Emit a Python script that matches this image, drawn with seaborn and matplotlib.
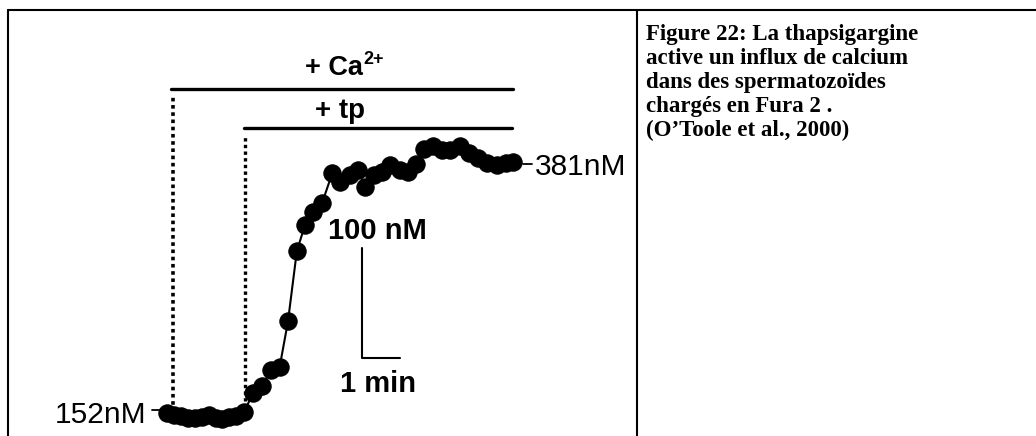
import numpy as np
import pandas as pd
import matplotlib.pyplot as plt
import seaborn as sns
from matplotlib.lines import Line2D

# Fura 2 trace: time (s) and [Ca2+]i (nM)
time_s = [0, 11, 22, 33, 44, 55, 66, 77, 87, 98, 109, 122,
          136, 150, 164, 178, 191, 205, 218, 231, 245,
          261, 273, 289, 302, 313, 327, 339, 352, 368, 381, 393,
          406, 420, 434, 447, 463, 477, 491, 505, 521, 535, 546]
calcium_nm = [155, 153, 152, 150, 150, 151, 153, 150, 149, 151, 152, 156,
              173, 179, 194, 197, 238, 302, 326, 338, 346,
              373, 365, 371, 376, 360, 371, 374, 380, 376, 374, 381,
              395, 398, 394, 394, 398, 391, 387, 382, 380, 382, 383]

ca_added_t = 9
tp_added_t = 123
end_t = 546
start_label = "152nM"
end_label = "381nM"
scale_nm = 100
scale_s = 60

caption = ["Figure 22: La thapsigargine",
           "active un influx de calcium",
           "dans des spermatozoïdes",
           "chargés en Fura 2 .",
           "(O\u2019Toole et al., 2000)"]

W, H = 1036, 436
S_PER_PX = 60 / 38
NM_PER_PX = 0.91


def px(x, y):
    return x / W, 1 - y / H


sns.set_style("white")
plt.rcParams["font.family"] = ["Liberation Sans", "DejaVu Sans"]
plt.rcParams["text.color"] = "black"

fig = plt.figure(figsize=(W / 100, H / 100), dpi=100)
ax = fig.add_axes([0, 0, 1, 1])
ax.set_xlim((0 - 167) * S_PER_PX, (W - 167) * S_PER_PX)
ax.set_ylim(152 + (416 - H) * NM_PER_PX, 152 + 416 * NM_PER_PX)
ax.axis("off")

df = pd.DataFrame({"t": time_s, "ca": calcium_nm})
sns.lineplot(data=df, x="t", y="ca", ax=ax, color="black", lw=1.5,
             marker="o", markersize=12.5, markeredgecolor="black", sort=False)

# addition bars and dotted onset lines
ax.plot([ca_added_t - 2, end_t], [450, 450], color="black", lw=2.4)
ax.plot([tp_added_t - 2, end_t - 2], [414, 414], color="black", lw=2.4)
ax.plot([ca_added_t, ca_added_t], [156, 442], color="black", lw=2.6,
        ls=(0, (1, 1)))
ax.plot([tp_added_t, tp_added_t], [166, 408], color="black", lw=2.4,
        ls=(0, (1, 1)))

# scale bar
sb_t, sb_c = 308, 205
ax.plot([sb_t, sb_t, sb_t + scale_s], [sb_c + scale_nm, sb_c, sb_c],
        color="black", lw=1.5)

# table borders
for (x0, y0), (x1, y1) in [((8, 10), (W, 10)), ((8, 10), (8, H)),
                           ((637, 10), (637, H))]:
    a, b = px(x0, y0)
    c, d = px(x1, y1)
    fig.add_artist(Line2D([a, c], [b, d], color="black", lw=1.5))

# small ticks before the level labels
for (x0, x1, y) in [(152, 160, 410), (523, 532, 164)]:
    a, b = px(x0, y)
    c, d = px(x1, y)
    fig.add_artist(Line2D([a, c], [b, d], color="black", lw=1.3))

fig.text(*px(146, 423), start_label, fontsize=21.5, ha="right", va="baseline")
fig.text(*px(535, 175), end_label, fontsize=21.5, ha="left", va="baseline")
fig.text(*px(328, 239), f"{scale_nm} nM", fontsize=21, fontweight="bold",
         ha="left", va="baseline")
fig.text(*px(340, 392), "1 min", fontsize=21, fontweight="bold",
         ha="left", va="baseline")
fig.text(*px(305, 75), "+ Ca", fontsize=19.5, fontweight="bold",
         ha="left", va="baseline")
fig.text(*px(363, 64), "2+", fontsize=13, fontweight="bold",
         ha="left", va="baseline")
fig.text(*px(315, 118), "+ tp", fontsize=20, fontweight="bold",
         ha="left", va="baseline")

for i, line in enumerate(caption):
    fig.text(*px(646, 40 + i * 24), line, fontsize=16.5, fontweight="bold",
             family="Liberation Serif", ha="left", va="baseline")

fig.savefig("out.png", dpi=100)
